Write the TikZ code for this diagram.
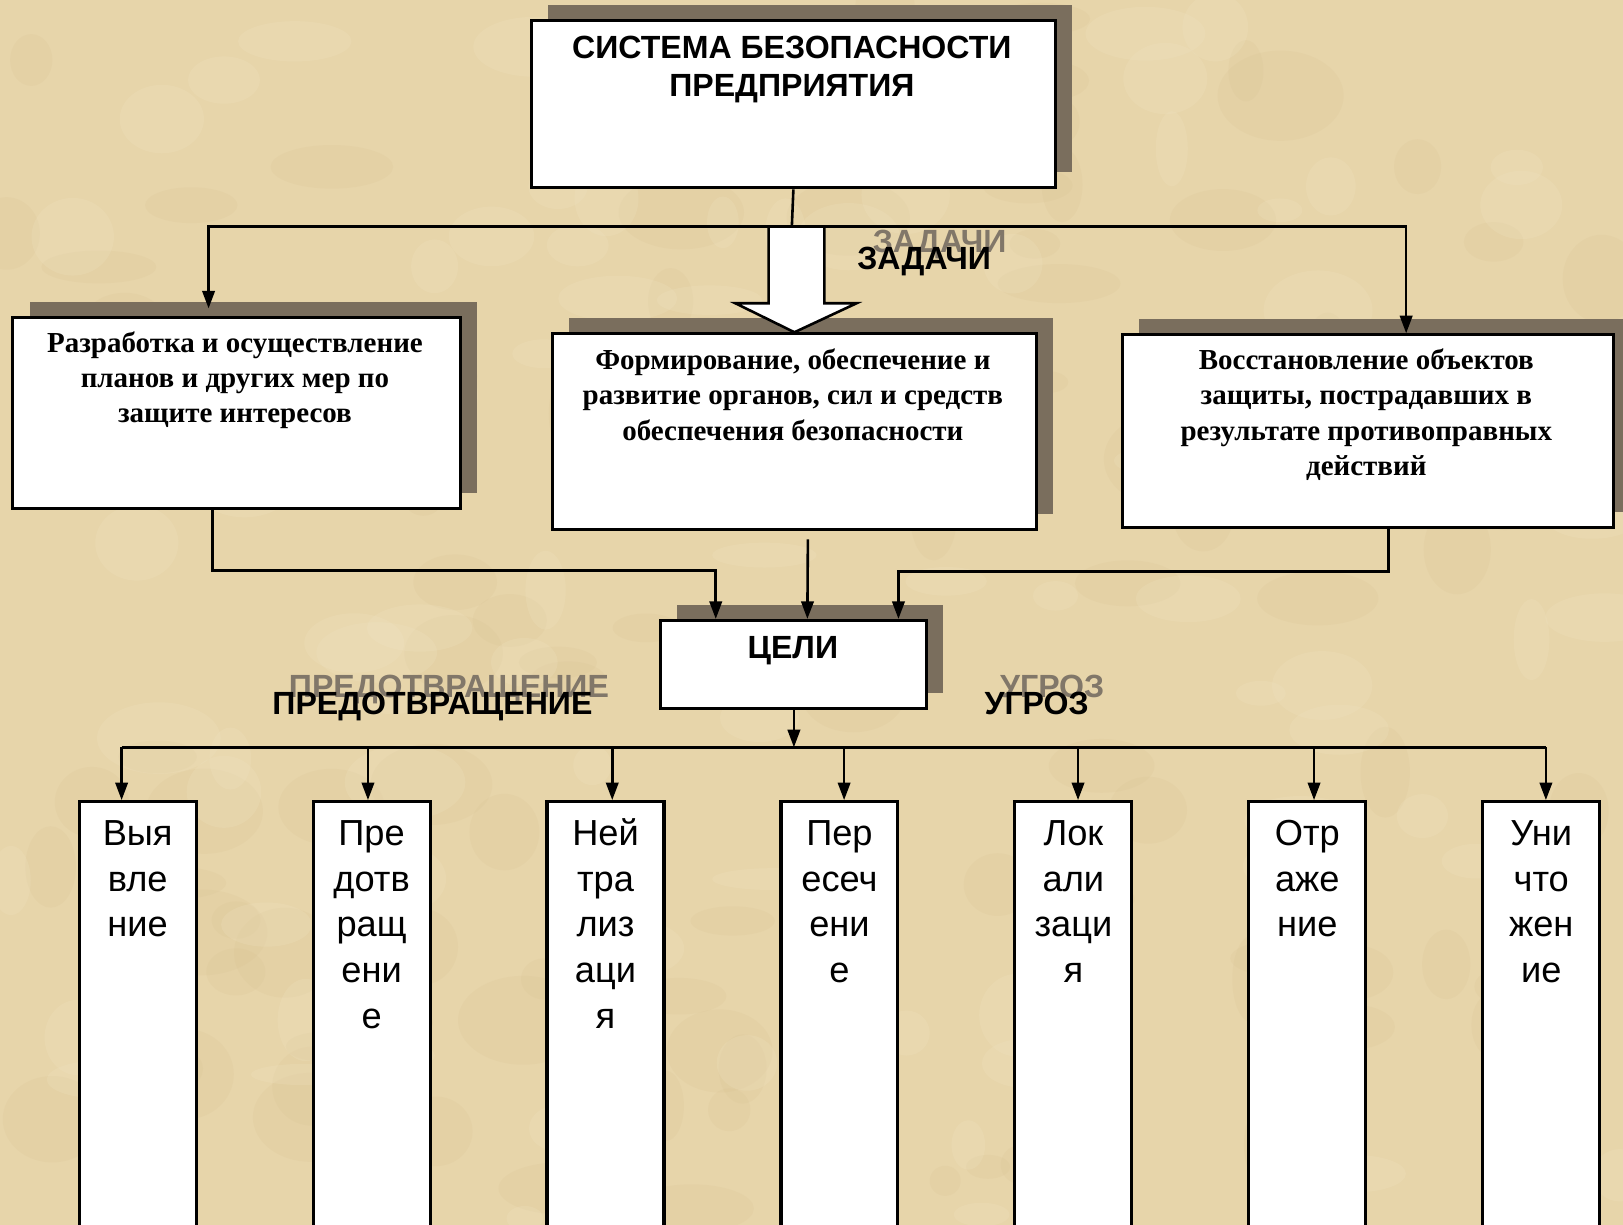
\documentclass[tikz,border=0pt]{standalone}
\usepackage{fontspec}
\setmainfont{Liberation Serif}
\newfontfamily\arialf{Liberation Sans}
\usetikzlibrary{arrows.meta,shadows,calc}
\definecolor{bgc}{HTML}{E7D5AA}
\definecolor{bgdark}{HTML}{D2B988}
\definecolor{bglight}{HTML}{F3E8CA}
\definecolor{shc}{HTML}{7A6E5D}
\definecolor{ghost}{HTML}{817769}
\newcommand\firstln{\rule{0pt}{30pt}}
\begin{document}
\begin{tikzpicture}[x=1pt,y=-1pt,
  box/.style={draw=black, line width=3pt, fill=white, anchor=north west, inner sep=0pt,
    general shadow={fill=shc, shadow xshift=16pt, shadow yshift=15pt}},
  gbox/.style={draw=black, line width=3pt, fill=white, anchor=north west, inner sep=0pt,
    minimum width=113pt, minimum height=420pt},
  capt/.style={font=\arialf\bfseries\fontsize{31}{37}\selectfont, align=center, inner sep=0pt},
  sertxt/.style={font=\bfseries\fontsize{28}{34}\selectfont, align=center, inner sep=0pt, anchor=north},
  vtxt/.style={font=\arialf\fontsize{35}{44}\selectfont, align=center, inner sep=0pt, anchor=north},
  ln/.style={draw=black, line width=2.5pt},
  arr/.style={ln, -{Triangle[length=17pt,width=12pt]}},
  hollow/.style={draw=black, line width=2.5pt, fill=white, line join=miter}
]
% background
\clip (0,0) rectangle (1568,1183);
\fill[bgc] (0,0) rectangle (1568,1183);
\pgfmathsetseed{7}
\foreach \k in {1,...,120}{
  \pgfmathsetmacro\px{rnd*1568}
  \pgfmathsetmacro\py{rnd*1183}
  \pgfmathsetmacro\rx{15+rnd*50}
  \pgfmathsetmacro\ry{10+rnd*35}
  \fill[bgdark, opacity=0.12] (\px,\py) ellipse [x radius=\rx, y radius=\ry];
}
\foreach \k in {1,...,100}{
  \pgfmathsetmacro\px{rnd*1568}
  \pgfmathsetmacro\py{rnd*1183}
  \pgfmathsetmacro\rx{15+rnd*45}
  \pgfmathsetmacro\ry{10+rnd*30}
  \fill[bglight, opacity=0.18] (\px,\py) ellipse [x radius=\rx, y radius=\ry];
}

% top box
\node[box, minimum width=506pt, minimum height=162pt] (top) at (512,18) {};
\node[capt, anchor=north] (toptxt) at (765,26)
  {\firstln СИСТЕМА БЕЗОПАСНОСТИ\\ПРЕДПРИЯТИЯ};

% task boxes
\node[box, minimum width=432pt, minimum height=185pt] (b1) at (11,305) {};
\node[sertxt] (b1t) at (227,310) {\firstln Разработка и осуществление\\планов и других мер по\\защите интересов};
\node[box, minimum width=468pt, minimum height=189pt] (b2) at (532,321) {};
\node[sertxt] (b2t) at (766,327) {\firstln Формирование, обеспечение и\\развитие органов, сил и средств\\обеспечения безопасности};
\node[box, minimum width=474pt, minimum height=186pt] (b3) at (1083,322) {};
\node[sertxt] (b3t) at (1320,327) {\firstln Восстановление объектов\\защиты, пострадавших в\\результате противоправных\\действий};

% connectors from top box
\coordinate (jn) at (765,219);
\draw[ln] (top.south) -- (jn);
\draw[arr, shorten >=7pt] (jn) -| ([xshift=-27pt]b1.north);
\draw[arr] (jn) -| ([xshift=37pt]b3.north);
% hollow arrow
\draw[hollow] (b2.north) -- ++(60,-28) -- ++(-31,0) -- ++(0,-74) -- ++(-54,0) -- ++(0,74) -- ++(-32,0) -- cycle;

% ЗАДАЧИ
\node[capt, anchor=base west, text=ghost] (zadg) at (843,244) {ЗАДАЧИ};
\node[capt, anchor=base west] (zad) at (828,260) {ЗАДАЧИ};

% goal box
\node[box, minimum width=257pt, minimum height=85pt] (goal) at (637,598) {};
\node[capt, anchor=base] (goalt) at (766,636) {ЦЕЛИ};

\draw[arr] ([xshift=-23pt]b1.south) -- ++(0,58) -| ([xshift=-75.5pt]goal.north);
\draw[arr] ([xshift=13pt,yshift=-8pt]b2.south) -- ([xshift=13pt]goal.north);
\draw[arr] ([xshift=20pt]b3.south) -- ++(0,41) -| ([xshift=101pt]goal.north);

% labels
\node[capt, anchor=base west, text=ghost] (prg) at (279,674) {ПРЕДОТВРАЩЕНИЕ};
\node[capt, anchor=base west] (pr) at (263,690) {ПРЕДОТВРАЩЕНИЕ};
\node[capt, anchor=base west, text=ghost] (ugg) at (966,674) {УГРОЗ};
\node[capt, anchor=base west] (ug) at (951,690) {УГРОЗ};

% bottom boxes
\foreach \i/\t/\off in {1/{Выя\\вле\\ние}/-15.5,
                        2/{Пре\\дотв\\ращ\\ени\\е}/-3.5,
                        3/{Ней\\тра\\лиз\\аци\\я}/6.5,
                        4/{Пер\\есеч\\ени\\е}/4.5,
                        5/{Лок\\али\\заци\\я}/4.5,
                        6/{Отр\\аже\\ние}/6.5,
                        7/{Уни\\что\\жен\\ие}/4.5}{
  \pgfmathsetmacro\bx{75+226*(\i-1)}
  \node[gbox] (g\i) at (\bx,773) {};
  \node[vtxt] (t\i) at ($(g\i.north)+(0,14)$) {\firstln\t};
  \coordinate (bus\i) at ($(g\i.north)+(\off,-51)$);
  \draw[arr] (bus\i) -- ([xshift=\off pt]g\i.north);
}
\draw[line width=3pt] (bus1) -- (bus7);
\draw[arr] (goal.south) -- (goal.south |- bus1);
\end{tikzpicture}
\end{document}
